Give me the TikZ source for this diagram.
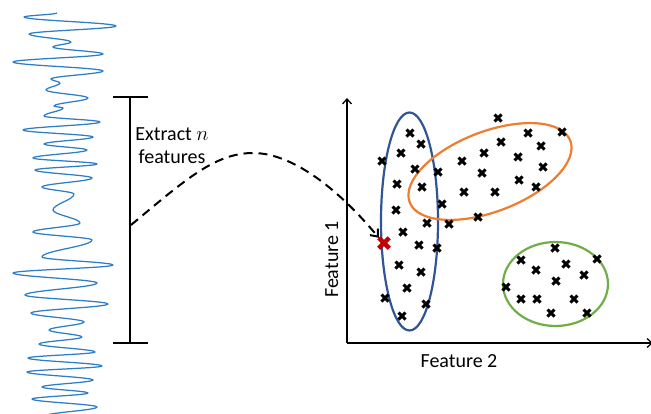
\documentclass[tikz,border=0pt]{standalone}
\usepackage{fontspec}
\setmainfont{Carlito}
\usetikzlibrary{arrows.meta,shapes.misc}
\definecolor{wavec}{RGB}{46,125,200}
\definecolor{bluee}{RGB}{47,85,151}
\definecolor{orangee}{RGB}{237,125,49}
\definecolor{greene}{RGB}{112,173,71}
\definecolor{redx}{RGB}{192,0,0}
\tikzset{
  wave/.style={draw=wavec, line width=1.25pt, line join=round},
  brk/.style={draw=black, line width=1.5pt},
  axisline/.style={draw=black, line width=1.3pt, -{Straight Barb[length=5pt,width=9pt]}},
  xm/.style={cross out, draw=black, line width=3.1pt, minimum size=7pt, inner sep=0pt, outer sep=0pt},
  redxm/.style={cross out, draw=redx, line width=4.5pt, minimum size=10.5pt, inner sep=0pt, outer sep=0pt},
  ell/.style={line width=2.2pt},
  lbl/.style={font=\fontsize{20}{24}\selectfont, inner sep=0pt},
  dasharrow/.style={draw=black, line width=2pt, dash pattern=on 9pt off 6pt, -{Straight Barb[length=6pt,width=10pt]}}
}
\begin{document}
\begin{tikzpicture}[x=1pt,y=-1pt]
\useasboundingbox (0,0) rectangle (651,413);
% waveform
\draw[wave] (57,13) \foreach \x/\y [remember=\y as \ly (initially 13)] in {
 24/17, 116/26, 29/34, 71/42, 53/47, 103/54, 13/62, 103/71, 51/79, 60/83, 46/90,
 88/98, 54/106, 63/108, 44/116, 100/122, 23/130, 93/137, 44/144, 87/150, 33/158,
 97/164, 35/170, 92/178, 42/187, 74/194, 53/210, 80/223, 33/232, 92/240, 42/257,
 113/265, 13/273, 97/283, 25/295, 108/304, 31/313, 84/322, 49/330, 82/337, 39/344,
 95/352, 28/358, 102/366, 27/372, 93/380, 42/387, 88/393, 32/399, 97/407, 45/416}
 { .. controls +(0,{0.364*(\y-\ly)}) and +(0,{-0.364*(\y-\ly)}) .. (\x,\y) };
% bracket
\coordinate (btop) at (130,97);
\coordinate (bbot) at (130,343);
\draw[brk] (113,97) -- (148,97);
\draw[brk] (113,343) -- (148,343);
\draw[brk] (btop) -- (bbot);
\coordinate (ds) at (131,225);
% text
\node[lbl, anchor=base] (t1) at (172,140) {Extract $n$};
\node[lbl, anchor=base] (t2) at (172,163) {features};
% axes
\coordinate (org) at (347,343);
\coordinate (ytop) at (347,98);
\coordinate (xend) at (653,343);
\draw[axisline] (org) -- (ytop);
\draw[axisline] (org) -- (xend);
\node[lbl, rotate=90, anchor=base] (f1) at (338,259.5) {Feature 1};
\node[lbl, anchor=base] (f2) at (459,367) {Feature 2};
% ellipses
\draw[ell, draw=bluee] (409.5,221.5) ellipse [x radius=28.5pt, y radius=109pt];
\draw[ell, draw=orangee, rotate around={21:(490,171.5)}] (490,171.5) ellipse [x radius=86pt, y radius=40pt];
\draw[ell, draw=greene] (555.5,284) ellipse [x radius=52.5pt, y radius=42pt];
% crosses
\foreach \p [count=\i] in {(410,133),(421,144),(401,153),(382,161),(415,169),(438,172),(397,184),(422,187),(442,204),(396,210),(427,223),(449,224),(403,232),(419,245),(437,248),(399,265),(421,272),(407,288),(385,298),(426,304),(402,316)}
  \node[xm] (b\i) at \p {};
\foreach \p [count=\i] in {(498,118),(528,133),(562,132),(501,142),(484,153),(541,146),(462,161),(518,157),(482,173),(543,167),(519,180),(536,187),(464,192),(495,192),(478,217)}
  \node[xm] (o\i) at \p {};
\foreach \p [count=\i] in {(555,248),(521,260),(566,264),(597,259),(536,270),(556,281),(584,275),(506,287),(521,299),(537,299),(574,299),(551,313),(587,313)}
  \node[xm] (g\i) at \p {};
\node[redxm] (rx) at (384,243) {};
% dashed arrow
\coordinate (pk) at (253,153);
\draw[dasharrow] (ds) .. controls (185,180) and (215,153) .. (pk) .. controls (290,153) and (335,185) .. (rx.north west);
\end{tikzpicture}
\end{document}
